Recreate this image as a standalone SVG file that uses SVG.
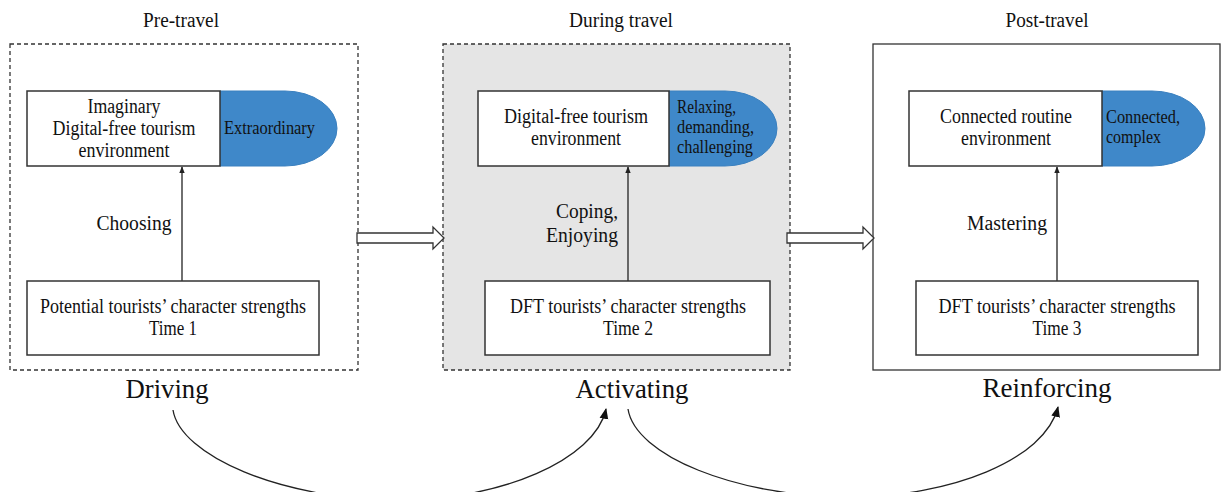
<svg xmlns="http://www.w3.org/2000/svg" width="1221" height="492" viewBox="0 0 1221 492">
<style>
text{font-family:"Liberation Serif","Times New Roman",serif;fill:#111}
.t{font-size:20.5px;text-anchor:middle}
.h{font-size:20px;text-anchor:middle}
.b{font-size:19px}
.big{font-size:28px;text-anchor:middle}
.box{fill:#fff;stroke:#333;stroke-width:1.5}
.blue{fill:#3f88c9;stroke:#3a80bf;stroke-width:1}
.panel{stroke:#333;stroke-width:1.3}
.dash{stroke-dasharray:4 3}
.ln{stroke:#222;stroke-width:1.3;fill:none}
.hollow{fill:#fff;stroke:#333;stroke-width:1.3}
</style>
<defs>
<marker id="ah" viewBox="0 0 10 10" refX="9" refY="5" markerWidth="7" markerHeight="7" markerUnits="userSpaceOnUse" orient="auto"><path d="M0,1 L10,5 L0,9 Z" fill="#222"/></marker>
<marker id="ahb" viewBox="0 0 10 10" refX="9" refY="5" markerWidth="11" markerHeight="11" markerUnits="userSpaceOnUse" orient="auto"><path d="M0,1 L10,5 L0,9 Z" fill="#111"/></marker>
</defs>

<g id="titles">
<text class="h" x="181" y="27" textLength="76" lengthAdjust="spacingAndGlyphs">Pre-travel</text>
<text class="h" x="621" y="27" textLength="104" lengthAdjust="spacingAndGlyphs">During travel</text>
<text class="h" x="1047" y="27" textLength="83" lengthAdjust="spacingAndGlyphs">Post-travel</text>
</g>

<g id="panel-pre">
<rect class="panel dash" x="10" y="44" width="348" height="326" fill="#fff"/>
</g>
<g id="panel-during">
<rect class="panel dash" x="443" y="44" width="347" height="326" fill="#e5e5e5"/>
</g>
<g id="panel-post">
<rect class="panel" x="873" y="44" width="347" height="326" fill="#fff"/>
</g>

<g id="connectors">
<line class="ln" x1="182" y1="281" x2="182" y2="167" marker-end="url(#ah)"/>
<line class="ln" x1="628" y1="281" x2="628" y2="167" marker-end="url(#ah)"/>
<line class="ln" x1="1057" y1="281" x2="1057" y2="167" marker-end="url(#ah)"/>
<polygon class="hollow" points="357,233 433,233 433,227 444,238 433,249 433,243 357,243"/>
<polygon class="hollow" points="787,233 863,233 863,227 874,238 863,249 863,243 787,243"/>
<path class="ln" d="M173,410 C180,455 280,500 400,500 C500,500 595,460 606,409" marker-end="url(#ahb)"/>
<path class="ln" d="M628,409 C635,455 735,497 850,497 C950,497 1045,460 1058,407" marker-end="url(#ahb)"/>
</g>

<g id="node-env1">
<path class="blue" d="M220,91 H285 A52,37.5 0 0 1 285,166 H220 Z"/>
<rect class="box" x="27" y="91" width="193" height="75"/>
<text class="t" x="124" y="113" textLength="73" lengthAdjust="spacingAndGlyphs">Imaginary</text>
<text class="t" x="124" y="135" textLength="143" lengthAdjust="spacingAndGlyphs">Digital-free tourism</text>
<text class="t" x="124" y="157" textLength="91" lengthAdjust="spacingAndGlyphs">environment</text>
<text class="b" x="224" y="134" textLength="91" lengthAdjust="spacingAndGlyphs">Extraordinary</text>
</g>
<g id="label-choosing"><text class="t" x="134" y="230" textLength="75" lengthAdjust="spacingAndGlyphs">Choosing</text></g>
<g id="node-cs1">
<rect class="box" x="27" y="281" width="292" height="74"/>
<text class="t" x="173" y="313" textLength="266" lengthAdjust="spacingAndGlyphs">Potential tourists’ character strengths</text>
<text class="t" x="173" y="335" textLength="48" lengthAdjust="spacingAndGlyphs">Time 1</text>
</g>

<g id="node-env2">
<path class="blue" d="M669,91 H725 A52,37.5 0 0 1 725,166 H669 Z"/>
<rect class="box" x="478" y="91" width="191" height="75"/>
<text class="t" x="576" y="123" textLength="144" lengthAdjust="spacingAndGlyphs">Digital-free tourism</text>
<text class="t" x="576" y="145" textLength="90" lengthAdjust="spacingAndGlyphs">environment</text>
<text class="b" x="677" y="113" textLength="59" lengthAdjust="spacingAndGlyphs">Relaxing,</text>
<text class="b" x="677" y="133" textLength="77" lengthAdjust="spacingAndGlyphs">demanding,</text>
<text class="b" x="677" y="153" textLength="76" lengthAdjust="spacingAndGlyphs">challenging</text>
</g>
<g id="label-coping">
<text class="t" x="618" y="218" style="text-anchor:end" textLength="62" lengthAdjust="spacingAndGlyphs">Coping,</text>
<text class="t" x="618" y="242" style="text-anchor:end" textLength="72" lengthAdjust="spacingAndGlyphs">Enjoying</text>
</g>
<g id="node-cs2">
<rect class="box" x="485" y="281" width="285" height="74"/>
<text class="t" x="628" y="313" textLength="236" lengthAdjust="spacingAndGlyphs">DFT tourists’ character strengths</text>
<text class="t" x="628" y="335" textLength="50" lengthAdjust="spacingAndGlyphs">Time 2</text>
</g>

<g id="node-env3">
<path class="blue" d="M1102,91 H1152 A53,37.5 0 0 1 1152,166 H1102 Z"/>
<rect class="box" x="909" y="91" width="193" height="75"/>
<text class="t" x="1006" y="123" textLength="132" lengthAdjust="spacingAndGlyphs">Connected routine</text>
<text class="t" x="1006" y="145" textLength="90" lengthAdjust="spacingAndGlyphs">environment</text>
<text class="b" x="1106" y="123" textLength="74" lengthAdjust="spacingAndGlyphs">Connected,</text>
<text class="b" x="1106" y="143" textLength="55" lengthAdjust="spacingAndGlyphs">complex</text>
</g>
<g id="label-mastering"><text class="t" x="1007" y="230" textLength="80" lengthAdjust="spacingAndGlyphs">Mastering</text></g>
<g id="node-cs3">
<rect class="box" x="916" y="281" width="282" height="74"/>
<text class="t" x="1057" y="313" textLength="237" lengthAdjust="spacingAndGlyphs">DFT tourists’ character strengths</text>
<text class="t" x="1057" y="335" textLength="49" lengthAdjust="spacingAndGlyphs">Time 3</text>
</g>

<g id="stage-labels">
<text class="big" x="167" y="398" textLength="83" lengthAdjust="spacingAndGlyphs">Driving</text>
<text class="big" x="632" y="398" textLength="113" lengthAdjust="spacingAndGlyphs">Activating</text>
<text class="big" x="1047" y="397" textLength="129" lengthAdjust="spacingAndGlyphs">Reinforcing</text>
</g>
</svg>
